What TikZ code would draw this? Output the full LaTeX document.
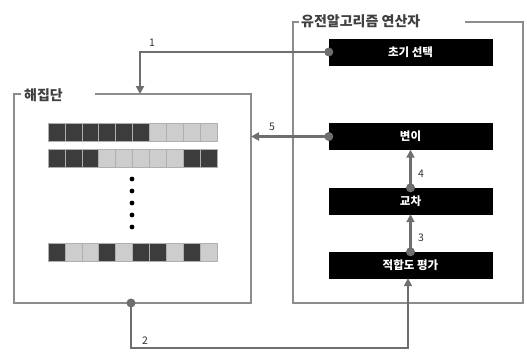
\documentclass[tikz,border=0pt]{standalone}
\usepackage{fontspec}
\setmainfont{Noto Sans CJK KR}
\usetikzlibrary{arrows.meta}
\definecolor{frame}{HTML}{8C8C8C}
\definecolor{conn}{HTML}{6E6E6E}
\definecolor{dcell}{HTML}{3C3C3C}
\definecolor{lcell}{HTML}{CDCDCD}
\tikzset{
  opbox/.style={fill=black, draw=black, minimum width=163pt, minimum height=26pt, inner sep=0pt, text=white, font=\fontsize{11.5}{13}\selectfont\bfseries},
  conline/.style={draw=conn, line width=2.1pt, -{Triangle[length=8pt,width=8pt]}},
  dotc/.style={circle, fill=conn, inner sep=0pt, minimum size=9pt},
  numlab/.style={font=\fontsize{10.5}{12}\selectfont, text=black!80, inner sep=1pt},
  titlelab/.style={font=\fontsize{14}{16}\selectfont\bfseries, text=black!75, inner sep=1pt},
  framel/.style={draw=frame, line width=1.2pt},
  cell/.style={draw=frame!70, line width=0.5pt, minimum width=16.9pt, minimum height=18pt, inner sep=0pt}
}
\begin{document}
\begin{tikzpicture}[x=1pt,y=-1pt]
\useasboundingbox (0,0) rectangle (527,351);
% left frame
\draw[framel] (21,94) -- (14,94) -- (14,303) -- (251,303) -- (251,94) -- (95,94);
\node[titlelab, anchor=west] (poptitle) at (23,95) {해집단};
% right frame
\draw[framel] (299,22) -- (293,22) -- (293,303) -- (523,303) -- (523,22) -- (465,22);
\node[titlelab, anchor=west] (optitle) at (300,21) {유전알고리즘 연산자};
% operator boxes
\node[opbox] (sel) at (410.5,52) {초기 선택};
\node[opbox] (mut) at (410.5,136.5) {변이};
\node[opbox] (crs) at (410.5,201) {교차};
\node[opbox] (fit) at (410.5,265) {적합도 평가};
% chromosome bars
\foreach \row/\y/\pat in {1/132/{1,1,1,1,1,1,0,0,0,0}, 2/158/{1,1,1,0,0,0,0,0,1,1}, 3/252/{1,0,0,1,0,1,1,0,1,0}}{
  \foreach \v [count=\i] in \pat {
    \ifnum\v=1
      \node[cell, fill=dcell] (c\row-\i) at ({48+8.45+(\i-1)*16.9},\y) {};
    \else
      \node[cell, fill=lcell] (c\row-\i) at ({48+8.45+(\i-1)*16.9},\y) {};
    \fi
  }
}
\foreach \y [count=\k] in {179,191,203,215,227}
  \fill (132,\y) circle (2.4pt);
% connector points
\node[dotc] (d1) at (sel.west) {};
\node[dotc] (d5) at (mut.west) {};
\node[dotc] (d4) at (crs.north) {};
\node[dotc] (d3) at (fit.north) {};
\node[dotc] (d2) at (131,303) {};
\coordinate (p1) at (140,52);
\coordinate (a1) at (140,94);
\coordinate (a5) at (251,136.5);
\coordinate (p2a) at (131,348);
\coordinate (p2b) at (408,348);
% connectors
\draw[conline] (d1.center) -- (p1) -- (a1);
\draw[conline] (d5.center) -- (a5);
\draw[conline] (d4.center) -- (mut.south -| d4);
\draw[conline] (d3.center) -- (crs.south -| d3);
\draw[conline] (d2.center) -- (p2a) -- (p2b) -- (fit.south -| p2b);
% labels
\node[numlab] (l1) at (152,43) {1};
\node[numlab] (l5) at (272,127) {5};
\node[numlab] (l4) at (421,174) {4};
\node[numlab] (l3) at (421,238) {3};
\node[numlab] (l2) at (145,341) {2};
\end{tikzpicture}
\end{document}
